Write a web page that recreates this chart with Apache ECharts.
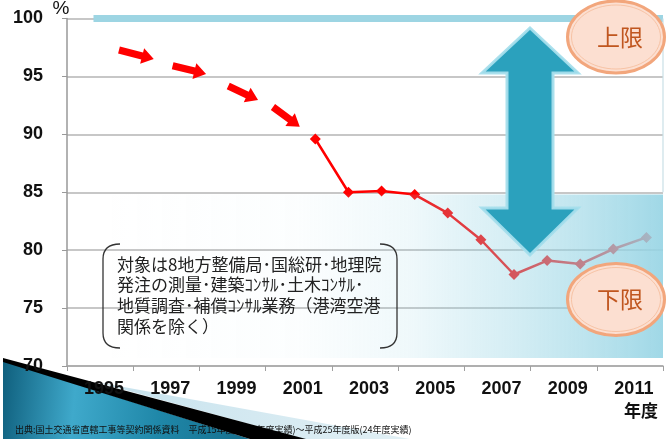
<!DOCTYPE html>
<html><head><meta charset="utf-8">
<script src="https://cdn.jsdelivr.net/npm/echarts@6/dist/echarts.min.js"></script>
<style>html,body{margin:0;padding:0;background:#fff}#c{width:669px;height:439px}</style>
</head><body><div id="c"></div>
<script>
// ---- data ----
const categories = ['1994','1995','1996','1997','1998','1999','2000','2001','2002','2003','2004','2005','2006','2007','2008','2009','2010','2011'];
const years = ['2001','2002','2003','2004','2005','2006','2007','2008','2009','2010','2011'];
const ratio = [89.6, 85.0, 85.1, 84.8, 83.2, 80.9, 77.9, 79.1, 78.8, 80.1, 81.1];
const xLabelYears = [1995, 1997, 1999, 2001, 2003, 2005, 2007, 2009, 2011];
const yMin = 70, yMax = 100, yStep = 5;
const upperLimit = 100;
const noteText = '対象は8地方整備局･国総研･地理院\n発注の測量･建築ｺﾝｻﾙ･土木ｺﾝｻﾙ･\n地質調査･補償ｺﾝｻﾙ業務（港湾空港\n関係を除く）';
const sourceText = '出典:国土交通省直轄工事等契約関係資料　平成15年度版(14年度実績)～平成25年度版(24年度実績)';
// trend arrows (year, value) tail -> tip
const trendArrows = [
  [[1995.57, 97.28], [1996.62, 96.5]],
  [[1997.19, 95.92], [1998.20, 95.21]],
  [[1998.87, 94.17], [1999.77, 92.96]],
  [[2000.22, 92.36], [2001.03, 90.66]]
];

const seriesData = categories.map(c => {
  const i = years.indexOf(c);
  return i >= 0 ? ratio[i] : null;
});

const numFont = '"Liberation Sans", Arial, sans-serif';
const jpFont = '"Noto Sans CJK JP", sans-serif';

const chart = echarts.init(document.getElementById('c'));
chart.setOption({
  animation: false,
  grid: {left: 67, right: 6, top: 18.5, bottom: 73},
  xAxis: [
    {
      type: 'category', data: categories, boundaryGap: true,
      axisLine: {lineStyle: {color: '#a8a8a8', width: 1.5}},
      axisTick: {show: true, length: 5, lineStyle: {color: '#a0a0a0', width: 1}},
      axisLabel: {show: false}, splitLine: {show: false}
    },
    {
      type: 'value', position: 'bottom', min: 1994, max: 2012, interval: 1,
      axisLine: {show: false}, axisTick: {show: false}, splitLine: {show: false},
      axisLabel: {
        margin: 14, fontSize: 18, fontWeight: 'bold', color: '#111', fontFamily: numFont,
        padding: [0, 0, 0, 8],
        formatter: v => xLabelYears.indexOf(v) >= 0 ? String(v) : ''
      }
    }
  ],
  yAxis: {
    type: 'value', min: yMin, max: yMax, interval: yStep,
    axisLine: {show: true, lineStyle: {color: '#999', width: 1.5}},
    axisTick: {show: true, length: 5, lineStyle: {color: '#999'}},
    splitLine: {lineStyle: {color: '#b4b4b4', width: 1.5}},
    axisLabel: {margin: 24, fontSize: 18, fontWeight: 'bold', color: '#111', fontFamily: numFont}
  },
  series: [{
    type: 'line', xAxisIndex: 0, data: seriesData, connectNulls: false,
    symbol: 'diamond', symbolSize: 11, z: 3,
    lineStyle: {color: '#ff0000', width: 2.5},
    itemStyle: {color: '#ff0000'}
  }]
});

const px = x => chart.convertToPixel({xAxisIndex: 1}, x);
const py = y => chart.convertToPixel({yAxisIndex: 0}, y);

function arrowPoly(x0, y0, x1, y1, bw, hw, hl) {
  const dx = x1 - x0, dy = y1 - y0, L = Math.hypot(dx, dy);
  const ux = dx / L, uy = dy / L, nx = -uy, ny = ux;
  const bx = x1 - ux * hl, by = y1 - uy * hl;
  return [[x0 + nx * bw, y0 + ny * bw], [bx + nx * bw, by + ny * bw], [bx + nx * hw, by + ny * hw], [x1, y1],
          [bx - nx * hw, by - ny * hw], [bx - nx * bw, by - ny * bw], [x0 - nx * bw, y0 - ny * bw]];
}

const g = [];
// upper-limit bar at 100
g.push({type: 'line', z: 40, shape: {x1: px(1994.8), y1: py(upperLimit), x2: px(2012), y2: py(upperLimit)},
  style: {stroke: '#9dd5e3', lineWidth: 7}});
// right border
g.push({type: 'line', z: 40, shape: {x1: px(2012), y1: py(100), x2: px(2012), y2: py(85)},
  style: {stroke: '#c9dfe6', lineWidth: 1.2}});
// gradient band (lower zone)
const bx0 = px(1995), bx1 = px(2012), by0 = py(84.8), by1 = py(70.7);
g.push({type: 'rect', z: 50, shape: {x: bx0, y: by0, width: bx1 - bx0, height: by1 - by0},
  style: {fill: new echarts.graphic.LinearGradient(0, 0, 1, 0, [
    {offset: 0, color: 'rgba(150,212,228,0)'},
    {offset: 0.35, color: 'rgba(150,212,228,0.03)'},
    {offset: 0.55, color: 'rgba(150,212,228,0.15)'},
    {offset: 0.73, color: 'rgba(150,212,228,0.4)'},
    {offset: 0.86, color: 'rgba(150,212,228,0.62)'},
    {offset: 1, color: 'rgba(150,212,228,0.9)'}
  ])}});
// red trend arrows
trendArrows.forEach(a => {
  g.push({type: 'polygon', z: 45, shape: {points: arrowPoly(px(a[0][0]), py(a[0][1]), px(a[1][0]), py(a[1][1]), 3.6, 8, 12)},
    style: {fill: '#ff0000'}});
});
// blue double arrow
(function () {
  const cx = 530, tTop = 28, hTop = 73, hBot = 208, tBot = 255, hw = 48, sw = 23;
  g.push({type: 'polygon', z: 60, shape: {points: [
    [cx, tTop], [cx + hw, hTop], [cx + sw, hTop], [cx + sw, hBot], [cx + hw, hBot], [cx, tBot],
    [cx - hw, hBot], [cx - sw, hBot], [cx - sw, hTop], [cx - hw, hTop]]},
    style: {fill: '#2ba1bd', stroke: 'rgba(165,222,236,0.95)', lineWidth: 3, lineJoin: 'miter'}});
})();
// ellipses
function badge(cx, cy, text) {
  g.push({type: 'ellipse', z: 70, shape: {cx: cx, cy: cy, rx: 48.5, ry: 36},
    style: {fill: '#fcdfd1', stroke: '#f2a67c', lineWidth: 3}});
  g.push({type: 'ellipse', z: 71, shape: {cx: cx, cy: cy, rx: 44.5, ry: 32},
    style: {fill: 'none', stroke: '#f7c3a5', lineWidth: 1}});
  g.push({type: 'text', z: 72, x: cx + 4, y: cy, style: {text: text, font: '23px ' + jpFont, fill: '#c0561f',
    textAlign: 'center', textVerticalAlign: 'middle'}});
}
badge(616, 37, '上限');
badge(616, 299.5, '下限');
// bracket box
(function () {
  const L = 103, R = 397, T = 244, B = 348, r = 15;
  const st = {stroke: '#333', lineWidth: 1.3, fill: 'none'};
  g.push({type: 'bezierCurve', z: 60, shape: {x1: L + r + 2, y1: T, cpx1: L, cpy1: T, x2: L, y2: T + r}, style: st});
  g.push({type: 'line', z: 60, shape: {x1: L, y1: T + r, x2: L, y2: B - r}, style: st});
  g.push({type: 'bezierCurve', z: 60, shape: {x1: L, y1: B - r, cpx1: L, cpy1: B, x2: L + r + 2, y2: B}, style: st});
  g.push({type: 'bezierCurve', z: 60, shape: {x1: R - r - 2, y1: T, cpx1: R, cpy1: T, x2: R, y2: T + r}, style: st});
  g.push({type: 'line', z: 60, shape: {x1: R, y1: T + r, x2: R, y2: B - r}, style: st});
  g.push({type: 'bezierCurve', z: 60, shape: {x1: R, y1: B - r, cpx1: R, cpy1: B, x2: R - r - 2, y2: B}, style: st});
  g.push({type: 'text', z: 61, x: 117, y: 254, style: {text: noteText, font: '17px ' + jpFont, fill: '#222',
    lineHeight: 20.6, textVerticalAlign: 'top', textAlign: 'left'}});
})();
// axis captions
g.push({type: 'text', z: 30, x: 61, y: 9, style: {text: '%', font: '19px ' + numFont, fill: '#111', textAlign: 'center', textVerticalAlign: 'middle'}});
g.push({type: 'text', z: 30, x: 641, y: 411, style: {text: '年度', font: 'bold 17px ' + jpFont, fill: '#111', textAlign: 'center', textVerticalAlign: 'middle'}});
// bottom-left slide decoration (beneath axis labels)
g.push({type: 'polygon', z: -3, shape: {points: [[3, 361], [250, 439], [3, 439]]},
  style: {fill: new echarts.graphic.LinearGradient(0, 0, 1, 0.3, [
    {offset: 0, color: '#0f5f7d'}, {offset: 0.3, color: '#3fa9cb'}, {offset: 0.65, color: '#1f87a8'}, {offset: 1, color: '#17708f'}])}});
g.push({type: 'polygon', z: -3, shape: {points: [[96, 382], [410, 439], [304, 439]]},
  style: {fill: new echarts.graphic.LinearGradient(0, 0, 1, 0, [
    {offset: 0, color: '#c6e2ed'}, {offset: 1, color: '#e2f0f5'}])}});
g.push({type: 'text', z: -2, x: 15, y: 430, style: {text: sourceText, font: '9px ' + jpFont, fill: '#111', textAlign: 'left', textVerticalAlign: 'middle'}});
g.push({type: 'polygon', z: -1, shape: {points: [[3, 358], [306, 439], [250, 439], [3, 362]]},
  style: {fill: '#000'}});

chart.setOption({graphic: {elements: g}});
</script>
</body></html>
